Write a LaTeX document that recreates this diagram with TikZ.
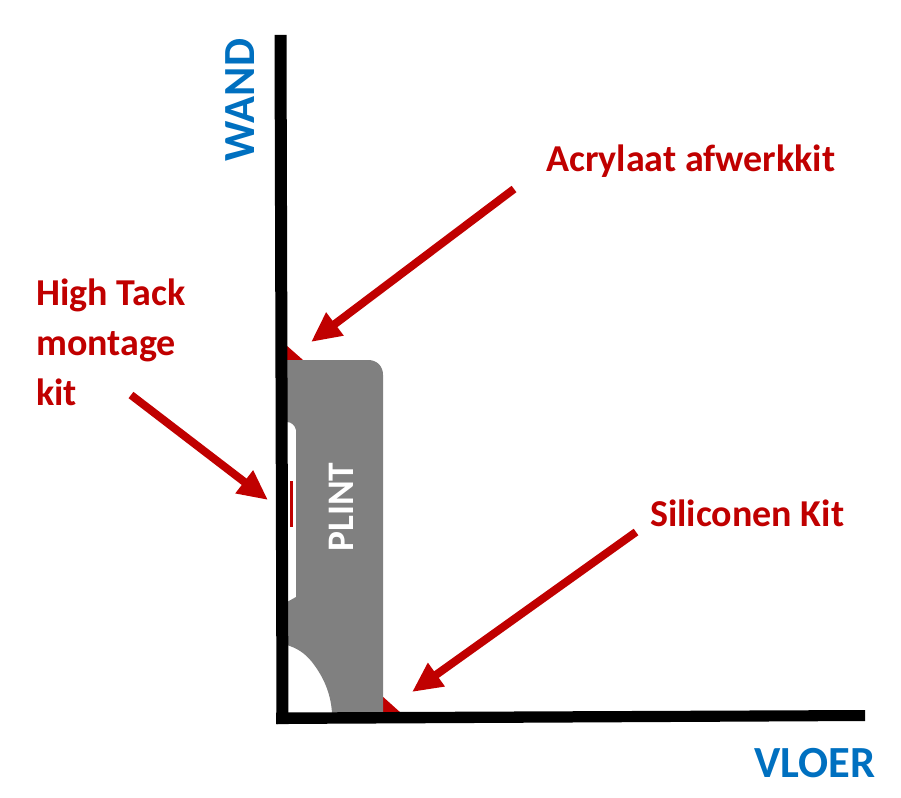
\documentclass[tikz,border=0pt]{standalone}
\usepackage{fontspec}
\setmainfont{Carlito}
\usetikzlibrary{arrows.meta}
\definecolor{kitred}{RGB}{192,0,0}
\definecolor{labelblue}{RGB}{0,112,192}
\definecolor{plintgrey}{RGB}{128,128,128}
\tikzset{
  redlabel/.style={text=kitred,font=\fontsize{38}{46}\selectfont\bfseries,inner sep=0pt,anchor=base west},
  bluelabel/.style={text=labelblue,font=\fontsize{44.5}{52}\selectfont\bfseries,inner sep=0pt},
  kitarrow/.style={draw=kitred,line width=8pt,-{Triangle[length=30pt,width=27pt]},shorten >=0pt},
  kitfill/.style={fill=kitred,draw=none},
  wall/.style={fill=black,draw=none}
}
\begin{document}
\begin{tikzpicture}[x=1pt,y=-1pt]
\useasboundingbox (0,0) rectangle (901,797);
% kit fillets
\fill[kitfill] (286,345) -- (303,360) -- (286,360) -- cycle;
\fill[kitfill] (381,695) -- (401,713) -- (381,713) -- cycle;
\fill[kitfill] (289.5,481) rectangle (292.5,527);
% plint
\fill[plintgrey] (286,360) -- (368,360) .. controls (377,360) and (383,366) .. (383,375)
  -- (383,713) -- (332,713) .. controls (331,697) and (326,680) .. (312,662)
  .. controls (304,652) and (296,648) .. (287,645) -- (287,602) -- (296,597) -- (296,430)
  .. controls (295,425) and (291,422) .. (287,422) -- cycle;
\node[text=white,font=\fontsize{37.5}{44}\selectfont\bfseries,rotate=90,inner sep=0pt] (plint) at (341,507) {PLINT};
% wall and floor
\fill[wall] (274.5,35) -- (286.5,35) -- (288.5,724) -- (276.5,724) -- cycle;
\fill[wall] (276,712.5) -- (865,710) -- (865,721) -- (276,724) -- cycle;
% labels
\node[bluelabel,rotate=90] (wand) at (240,100) {WAND};
\node[bluelabel] (vloer) at (815,763) {VLOER};
\node[redlabel] (acryl) at (546,171) {Acrylaat afwerkkit};
\node[redlabel] (high) at (36,305) {High Tack};
\node[redlabel] (mont) at (36,355) {montage};
\node[redlabel] (kit) at (36,405) {kit};
\node[redlabel] (sili) at (650,526) {Siliconen Kit};
% arrows
\coordinate (a1) at (514,189); \coordinate (t1) at (311,342);
\coordinate (a2) at (131,395); \coordinate (t2) at (268,500);
\coordinate (a3) at (636,532); \coordinate (t3) at (412,692);
\draw[kitarrow] (a1) -- (t1);
\draw[kitarrow] (a2) -- (t2);
\draw[kitarrow] (a3) -- (t3);
\end{tikzpicture}
\end{document}
